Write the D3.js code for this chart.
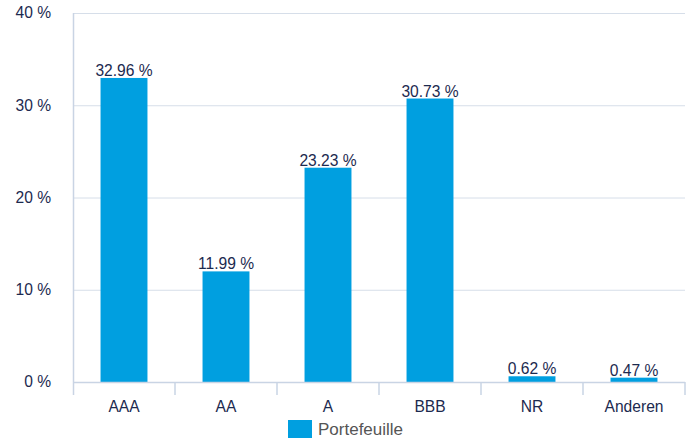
<!DOCTYPE html>
<html>
<head>
<meta charset="utf-8">
<script src="https://cdn.jsdelivr.net/npm/d3@7"></script>
<style>
  body { margin: 0; background: #fff; }
  text { font-family: "Liberation Sans", Arial, sans-serif; }
</style>
</head>
<body>
<svg id="chart" width="693" height="441"></svg>
<script>
// Data
var categories = ["AAA", "AA", "A", "BBB", "NR", "Anderen"];
var values = [32.96, 11.99, 23.23, 30.73, 0.62, 0.47];
var yTicks = [0, 10, 20, 30, 40];
var seriesName = "Portefeuille";

var svg = d3.select("#chart");

// Plot bounds
var plotLeft = 73, plotRight = 685, plotTop = 13, plotBottom = 382;

var x = d3.scaleBand()
    .domain(categories)
    .range([plotLeft, plotRight])
    .paddingInner(0.54)
    .paddingOuter(0.27);

var y = d3.scaleLinear()
    .domain([0, 40])
    .range([plotBottom, plotTop]);

var axisColor = "#c9d4e4";
var textColor = "#1c2a4f";
var fontSize = "15.6px";

// Gridlines
svg.append("g")
    .selectAll("line")
    .data(yTicks.filter(function(d) { return d > 0; }))
    .enter()
    .append("line")
    .attr("x1", plotLeft)
    .attr("x2", plotRight)
    .attr("y1", function(d) { return y(d) + 0.5; })
    .attr("y2", function(d) { return y(d) + 0.5; })
    .attr("stroke", "#d6dee9")
    .attr("stroke-width", 1);

// Y labels
svg.append("g")
    .selectAll("text")
    .data(yTicks)
    .enter()
    .append("text")
    .attr("x", 51)
    .attr("y", function(d) { return y(d); })
    .attr("dy", "0.35em")
    .attr("text-anchor", "end")
    .attr("font-size", fontSize)
    .attr("fill", textColor)
    .text(function(d) { return d + " %"; });

// Bars
svg.append("g")
    .selectAll("rect")
    .data(values)
    .enter()
    .append("rect")
    .attr("x", function(d, i) { return x(categories[i]); })
    .attr("width", x.bandwidth())
    .attr("y", function(d) { return y(d); })
    .attr("height", function(d) { return plotBottom - y(d); })
    .attr("fill", "#009fe0");

// Value labels
svg.append("g")
    .selectAll("text")
    .data(values)
    .enter()
    .append("text")
    .attr("x", function(d, i) { return x(categories[i]) + x.bandwidth() / 2; })
    .attr("y", function(d) { return y(d) - 2; })
    .attr("text-anchor", "middle")
    .attr("font-size", fontSize)
    .attr("fill", textColor)
    .text(function(d) { return d.toFixed(2) + " %"; });

// Axes lines
svg.append("line")
    .attr("x1", plotLeft + 0.5).attr("x2", plotLeft + 0.5)
    .attr("y1", plotTop).attr("y2", plotBottom + 13)
    .attr("stroke", axisColor).attr("stroke-width", 1.5);

svg.append("line")
    .attr("x1", plotLeft).attr("x2", plotRight)
    .attr("y1", plotBottom + 0.5).attr("y2", plotBottom + 0.5)
    .attr("stroke", axisColor).attr("stroke-width", 1.5);

// Category separators
var bandW = (plotRight - plotLeft) / categories.length;
svg.append("g")
    .selectAll("line")
    .data(categories)
    .enter()
    .append("line")
    .attr("x1", function(d, i) { return plotLeft + (i + 1) * bandW; })
    .attr("x2", function(d, i) { return plotLeft + (i + 1) * bandW; })
    .attr("y1", plotBottom)
    .attr("y2", plotBottom + 13)
    .attr("stroke", axisColor).attr("stroke-width", 1.5);

// Category labels
svg.append("g")
    .selectAll("text")
    .data(categories)
    .enter()
    .append("text")
    .attr("x", function(d) { return x(d) + x.bandwidth() / 2; })
    .attr("y", 407)
    .attr("dy", "0.35em")
    .attr("text-anchor", "middle")
    .attr("font-size", fontSize)
    .attr("fill", textColor)
    .text(function(d) { return d; });

// Legend
var legend = svg.append("g").attr("transform", "translate(288,420)");
legend.append("rect")
    .attr("width", 24).attr("height", 18)
    .attr("fill", "#009fe0");
legend.append("text")
    .attr("x", 30).attr("y", 9)
    .attr("dy", "0.35em")
    .attr("font-size", "17px")
    .attr("fill", "#555")
    .text(seriesName);
</script>
</body>
</html>
